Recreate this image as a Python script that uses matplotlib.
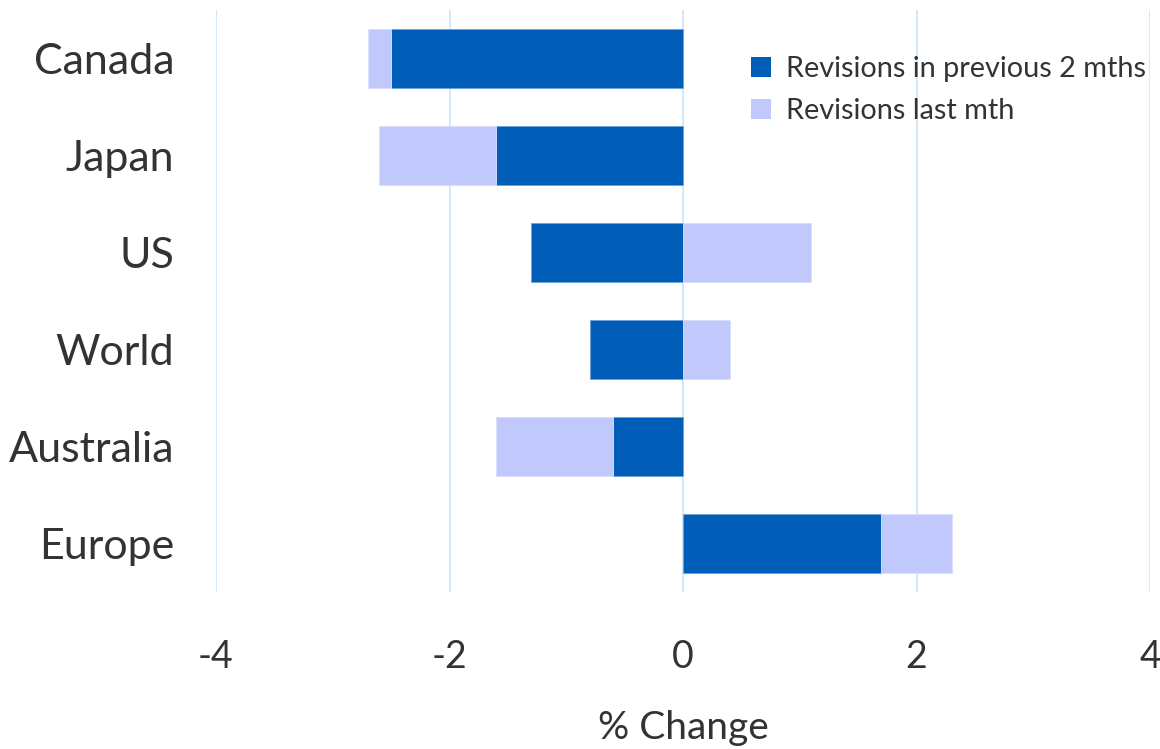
import matplotlib
matplotlib.use("Agg")
import matplotlib.pyplot as plt
import numpy as np
from matplotlib.patches import Patch

regions = ["Canada", "Japan", "US", "World", "Australia", "Europe"]
prev_2_mths = [-2.5, -1.6, -1.3, -0.8, -0.6, 1.7]
last_mth = [-0.2, -1.0, 1.1, 0.4, -1.0, 0.6]

dark = "#005EB8"
light = "#C0C8FC"
grid_col = "#D6E8FB"
text_col = "#333333"

plt.rcParams["font.family"] = ["Lato", "DejaVu Sans"]

fig = plt.figure(figsize=(11.6, 7.49), dpi=100)
ax = fig.add_axes([216 / 1160, (749 - 592) / 749, 934 / 1160, 582 / 749])

y = np.arange(len(regions))
prev = np.array(prev_2_mths)
last = np.array(last_mth)
# stack the latest revision onto the earlier one when both point the same way
left_last = np.where(np.sign(prev) == np.sign(last), prev, 0.0)

ax.barh(y, prev, height=0.6, color=dark, edgecolor="#6FA0DA", linewidth=0.6, zorder=3)
ax.barh(y, last, left=left_last, height=0.6, color=light, edgecolor="#D9DEFD", linewidth=0.6, zorder=3)

ax.set_xlim(-4, 4)
ax.set_ylim(len(regions) - 0.5, -0.5)
ax.set_xticks([-4, -2, 0, 2, 4])
ax.set_xticklabels(["-4", "-2", "0", "2", "4"])
ax.set_yticks(y)
ax.set_yticklabels(regions)
ax.tick_params(axis="both", length=0, colors=text_col)
ax.tick_params(axis="x", labelsize=27, pad=34)
ax.tick_params(axis="y", labelsize=31, pad=30)
for s in ax.spines.values():
    s.set_visible(False)
ax.xaxis.grid(True, color=grid_col, linewidth=1.5, zorder=0)
ax.set_axisbelow(True)

ax.set_xlabel("% Change", fontsize=28, color=text_col, labelpad=25)

handles = [Patch(facecolor=dark, label="Revisions in previous 2 mths"),
           Patch(facecolor=light, label="Revisions last mth")]
leg = ax.legend(handles=handles, loc="upper right", bbox_to_anchor=(1.008, 0.94),
                frameon=False, fontsize=20.8, handlelength=0.7, handleheight=0.7,
                handletextpad=0.5, labelspacing=0.55, borderaxespad=0)
for t in leg.get_texts():
    t.set_color(text_col)

fig.savefig("out.png", dpi=100, facecolor="white")
